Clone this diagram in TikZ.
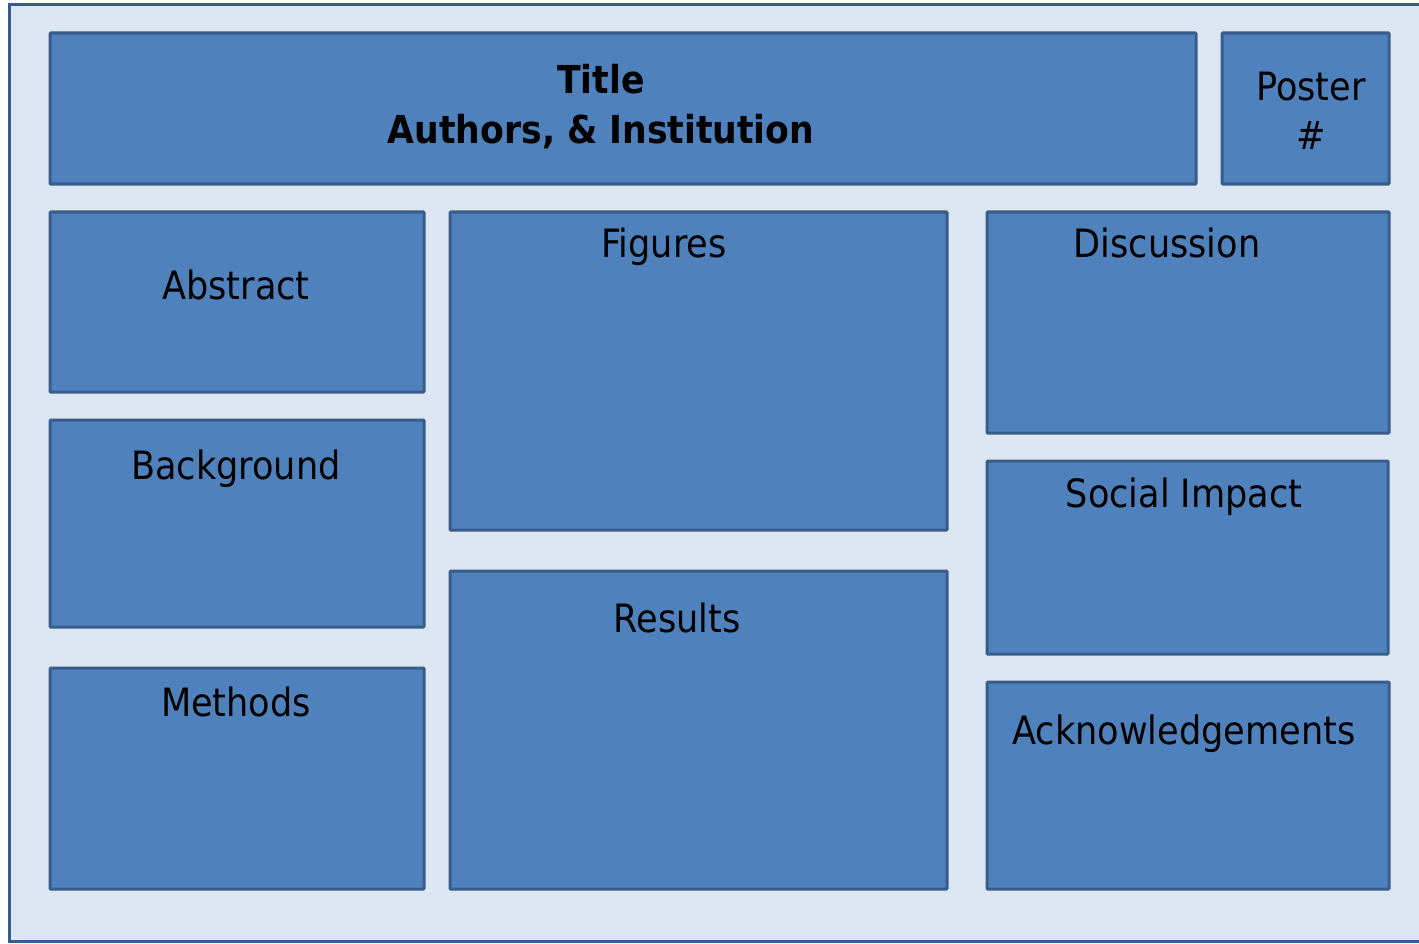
\documentclass[tikz,border=0pt]{standalone}
\usepackage{fontspec}
\setmainfont{DejaVu Sans Condensed}
\begin{document}
\begin{tikzpicture}[x=1pt,y=-1pt,
  frame/.style={draw=boxline,fill=paper,line width=3pt},
  panel/.style={draw=boxline,fill=boxfill,line width=3.2pt,rounded corners=1pt,inner sep=0pt,anchor=north west},
  lbl/.style={font=\fontsize{39}{50}\selectfont,text=black,inner sep=0pt,anchor=base},
  ttl/.style={font=\fontsize{38.5}{50}\selectfont\bfseries,text=black,inner sep=0pt,anchor=base}]
\definecolor{boxfill}{HTML}{4F81BD}
\definecolor{boxline}{HTML}{385D8A}
\definecolor{paper}{HTML}{DCE6F2}
\useasboundingbox (0,0) rectangle (1419,944);
\fill[white] (0,0) rectangle (1419,944);
\draw[frame] (9,5) rectangle (1430,941);
\node[panel,minimum width=1146pt,minimum height=151pt] (title) at (48.5,31.5) {};
\node[panel,minimum width=167pt,minimum height=151pt] (poster) at (1220.5,31.5) {};
\node[panel,minimum width=374pt,minimum height=180pt] (abstract) at (48.5,210.5) {};
\node[panel,minimum width=374pt,minimum height=207pt] (background) at (48.5,418.5) {};
\node[panel,minimum width=374pt,minimum height=221pt] (methods) at (48.5,666.5) {};
\node[panel,minimum width=497pt,minimum height=318pt] (figures) at (448.5,210.5) {};
\node[panel,minimum width=497pt,minimum height=318pt] (results) at (448.5,569.5) {};
\node[panel,minimum width=402pt,minimum height=221pt] (discussion) at (985.5,210.5) {};
\node[panel,minimum width=401pt,minimum height=193pt] (social) at (985.5,459.5) {};
\node[panel,minimum width=402pt,minimum height=207pt] (ack) at (985.5,680.5) {};
\node[ttl] (titletext) at (601,94) {Title};
\node[ttl] (authorstext) at (601,144) {Authors, \& Institution};
\node[lbl] (postertext) at (1311,101) {Poster};
\node[lbl] (hash) at (1311,150) {\#};
\node[lbl] (abstracttext) at (236,299) {Abstract};
\node[lbl] (backgroundtext) at (236,479) {Background};
\node[lbl] (methodstext) at (236,716) {Methods};
\node[lbl] (figurestext) at (664,258) {Figures};
\node[lbl] (resultstext) at (677,632) {Results};
\node[lbl] (discussiontext) at (1167,258) {Discussion};
\node[lbl] (socialtext) at (1184,507) {Social Impact};
\node[lbl] (acktext) at (1184,744) {Acknowledgements};
\end{tikzpicture}
\end{document}
